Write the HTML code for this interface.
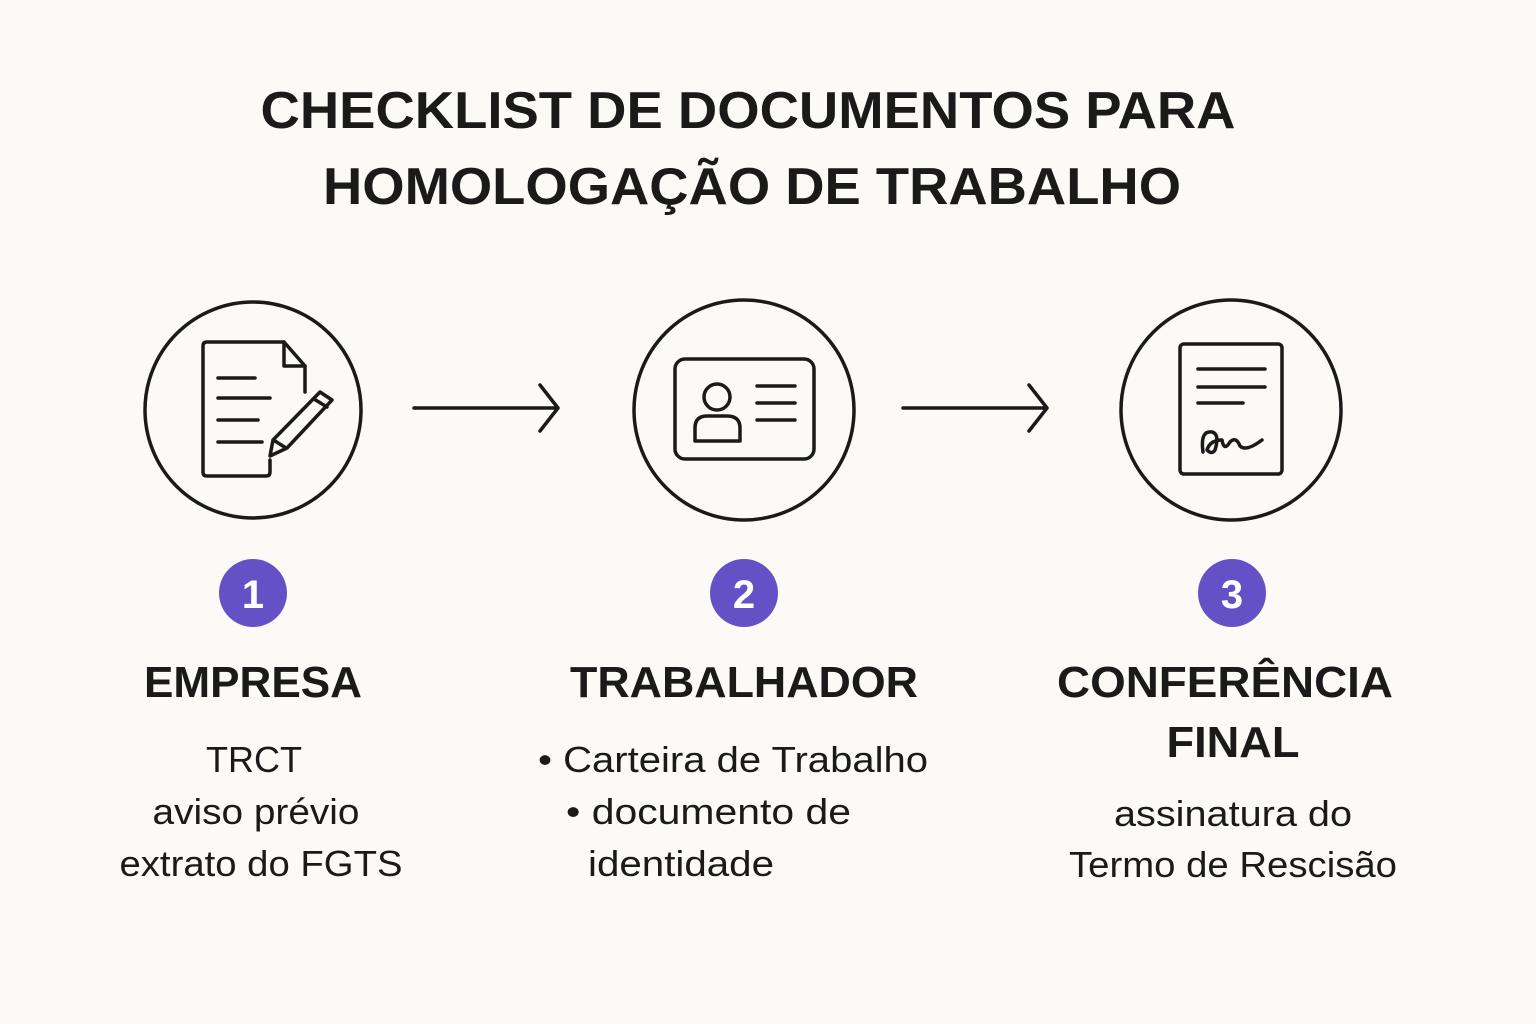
<!DOCTYPE html>
<html><head><meta charset="utf-8"><style>
html,body{margin:0;padding:0;background:#fbfaf7;}
svg{display:block;}
text{font-family:"Liberation Sans",sans-serif;fill:#1a1a1a;}
</style></head><body>
<svg width="1536" height="1024" viewBox="0 0 1536 1024" xmlns="http://www.w3.org/2000/svg">
<rect width="1536" height="1024" fill="#fbfaf7"/>
<text x="748" y="128" font-size="52" font-weight="bold" text-anchor="middle" textLength="975" lengthAdjust="spacingAndGlyphs">CHECKLIST DE DOCUMENTOS PARA</text>
<text x="752" y="204" font-size="52" font-weight="bold" text-anchor="middle" textLength="858" lengthAdjust="spacingAndGlyphs">HOMOLOGAÇÃO DE TRABALHO</text>

<g fill="none" stroke="#1a1a1a" stroke-width="3.5" stroke-linecap="round" stroke-linejoin="round">
<circle cx="253" cy="410" r="108"/>
<circle cx="744" cy="410" r="110"/>
<circle cx="1231" cy="410" r="110"/>
<path d="M414 408 H558 M540 385 L558 408 L540 431"/>
<path d="M903 408 H1047 M1029 385 L1047 408 L1029 431"/>
<path d="M270 460 V472 Q270 476 266 476 H207 Q203 476 203 472 V346 Q203 342 207 342 H284 L305 366 V392"/>
<path d="M284 342 V366 H305"/>
<path d="M218 378 H255 M218 398 H270 M218 420 H258 M218 442 H262"/>
<path d="M320 392 L332 400 L287 448 L270 456 L273 440 Z M314 399 L327 407 M275 441 L286 448"/>
<rect x="675" y="359" width="139" height="100" rx="10"/>
<circle cx="717" cy="397" r="13"/>
<path d="M695 441 V428 Q695 416 707 416 H727 Q740 416 740 428 V441 Z"/>
<path d="M757 386 H795 M757 403 H795 M757 420 H795"/>
<rect x="1180" y="344" width="102" height="130" rx="4"/>
<path d="M1198 369 H1265 M1198 387 H1265 M1198 403 H1243"/>
<path d="M1203 452 Q1200 430 1212 432 Q1220 434 1215 450 Q1212 455 1207 450 Q1210 440 1222 440 Q1224 452 1230 442 Q1236 436 1240 446 Q1246 452 1262 440"/>
</g>

<g>
<circle cx="253" cy="593" r="34" fill="#6451c6"/>
<circle cx="744" cy="593" r="34" fill="#6451c6"/>
<circle cx="1232" cy="593" r="34" fill="#6451c6"/>
<text x="253" y="608" font-size="40" font-weight="bold" text-anchor="middle" style="fill:#fff">1</text>
<text x="744" y="608" font-size="40" font-weight="bold" text-anchor="middle" style="fill:#fff">2</text>
<text x="1232" y="608" font-size="40" font-weight="bold" text-anchor="middle" style="fill:#fff">3</text>
</g>

<text x="253" y="697" font-size="44" font-weight="bold" text-anchor="middle" textLength="218" lengthAdjust="spacingAndGlyphs">EMPRESA</text>
<text x="744" y="697" font-size="44" font-weight="bold" text-anchor="middle" textLength="348" lengthAdjust="spacingAndGlyphs">TRABALHADOR</text>
<text x="1225" y="697" font-size="44" font-weight="bold" text-anchor="middle" textLength="336" lengthAdjust="spacingAndGlyphs">CONFERÊNCIA</text>
<text x="1233" y="757" font-size="44" font-weight="bold" text-anchor="middle" textLength="133" lengthAdjust="spacingAndGlyphs">FINAL</text>

<g font-size="36">
<text x="254" y="772" text-anchor="middle" textLength="96" lengthAdjust="spacingAndGlyphs">TRCT</text>
<text x="256" y="824" text-anchor="middle" textLength="207" lengthAdjust="spacingAndGlyphs">aviso prévio</text>
<text x="261" y="876" text-anchor="middle" textLength="283" lengthAdjust="spacingAndGlyphs">extrato do FGTS</text>
<text x="538" y="772" textLength="390" lengthAdjust="spacingAndGlyphs">• Carteira de Trabalho</text>
<text x="566" y="824" textLength="285" lengthAdjust="spacingAndGlyphs">• documento de</text>
<text x="588" y="876" textLength="186" lengthAdjust="spacingAndGlyphs">identidade</text>
<text x="1233" y="826" text-anchor="middle" textLength="238" lengthAdjust="spacingAndGlyphs">assinatura do</text>
<text x="1233" y="877" text-anchor="middle" textLength="328" lengthAdjust="spacingAndGlyphs">Termo de Rescisão</text>
</g>
</svg>
</body></html>
